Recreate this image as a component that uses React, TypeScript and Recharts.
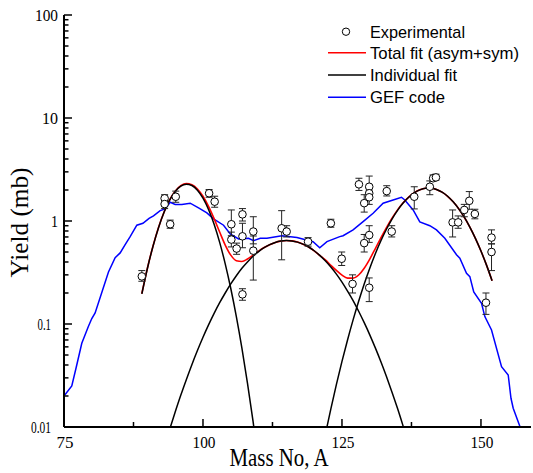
import React from 'react';
import { ComposedChart, Line, Scatter, XAxis, YAxis, ErrorBar } from 'recharts';

const W = 533;
const H = 473;
const SERIF = '"Liberation Serif", "Times New Roman", serif';
const SANS = '"Liberation Sans", Arial, sans-serif';

// ---------- Experimental yields ----------
const expMass = [89.0, 93.1, 93.1, 94.1, 95.1, 101.1, 102.1, 105.1, 105.1, 106.05, 107.1, 107.1, 107.1, 109.05, 109.05,
  114.15, 115.05, 118.9, 123.0, 124.95, 126.9, 128.05, 129.0, 129.0, 129.9, 129.9, 129.9, 129.9, 129.9, 133.05, 133.95,
  138.0, 140.8, 141.4, 141.9, 144.9, 145.9, 147.0, 147.9, 148.9, 150.9, 151.9, 151.9];
const expYield = [0.29, 1.66, 1.46, 0.93, 1.72, 1.86, 1.54, 0.93, 0.66, 0.54, 1.16, 0.71, 0.194, 0.79, 0.515,
  0.85, 0.79, 0.63, 0.95, 0.43, 0.245, 2.27, 1.49, 0.61, 2.15, 1.86, 1.7, 0.73, 0.225, 1.95, 0.79,
  1.72, 2.15, 2.6, 2.65, 0.97, 0.97, 1.28, 1.57, 1.17, 0.161, 0.69, 0.5];
const expErrLow = [0.03, 0.16, 0.14, 0.08, 0.2, 0.16, 0.18, 0.21, 0.1, 0.065, 0.16, 0.16, 0.024, 0.19, 0.248,
  0.43, 0.09, 0.06, 0.08, 0.06, 0.045, 0.29, 0.27, 0.11, 0.3, 0.2, 0.25, 0.11, 0.06, 0.2, 0.09,
  0.41, 0.35, 0.15, 0.15, 0.27, 0.12, 0.18, 0.27, 0.12, 0.037, 0.09, 0.17];
const expErrHigh = [0.04, 0.14, 0.14, 0.09, 0.23, 0.16, 0.2, 0.35, 0.12, 0.07, 0.16, 0.24, 0.026, 0.31, 0.2,
  0.41, 0.11, 0.06, 0.09, 0.07, 0.055, 0.33, 0.31, 0.13, 0.58, 0.2, 0.25, 0.17, 0.055, 0.25, 0.11,
  0.43, 0.3, 0.2, 0.2, 0.31, 0.15, 0.17, 0.36, 0.13, 0.039, 0.13, 0.1];

// ---------- Total fit (asym + sym) ----------
const totalMass = [89, 90, 91, 92, 93, 94, 95, 96, 97, 98, 99, 100, 101, 102, 103, 104, 105, 106, 107, 108, 109, 110,
  111, 112, 113, 114, 115, 116, 117, 118, 119, 120, 121, 122, 123, 124, 125, 126, 127, 128, 129, 130, 131, 132,
  133, 134, 135, 136, 137, 138, 139, 140, 141, 142, 143, 144, 145, 146, 147, 148, 149, 150, 151, 152];
const totalFit = [0.197, 0.348, 0.568, 0.865, 1.222, 1.602, 1.947, 2.199, 2.309, 2.253, 2.047, 1.739, 1.389, 1.056,
  0.781, 0.584, 0.466, 0.412, 0.405, 0.427, 0.465, 0.51, 0.553, 0.589, 0.619, 0.638, 0.646, 0.641, 0.624, 0.596,
  0.559, 0.514, 0.464, 0.419, 0.372, 0.331, 0.298, 0.279, 0.279, 0.299, 0.348, 0.427, 0.54, 0.686, 0.863, 1.066,
  1.283, 1.502, 1.707, 1.88, 2.009, 2.08, 2.085, 2.025, 1.905, 1.738, 1.535, 1.313, 1.088, 0.873, 0.679, 0.511,
  0.373, 0.263];

// ---------- Individual fits ----------
const lightMass = [89, 90, 91, 92, 93, 94, 95, 96, 97, 98, 99, 100, 101, 102, 103, 104, 105, 106, 107, 108, 109, 110];
const lightFit = [0.196, 0.346, 0.566, 0.861, 1.216, 1.592, 1.933, 2.179, 2.28, 2.213, 1.992, 1.665, 1.291, 0.929,
  0.62, 0.384, 0.221, 0.118, 0.0582, 0.0267, 0.0114, 0.0045];
const symMass = [94, 95, 96, 97, 98, 99, 100, 101, 102, 103, 104, 105, 106, 107, 108, 109, 110, 111, 112, 113, 114,
  115, 116, 117, 118, 119, 120, 121, 122, 123, 124, 125, 126, 127, 128, 129, 130, 131, 132, 133, 134, 135, 136, 137];
const symFit = [0.00946, 0.01397, 0.0203, 0.0288, 0.0403, 0.0552, 0.0743, 0.098, 0.1268, 0.161, 0.2, 0.245, 0.294,
  0.347, 0.4, 0.454, 0.505, 0.551, 0.589, 0.619, 0.638, 0.646, 0.641, 0.624, 0.596, 0.559, 0.514, 0.464, 0.411,
  0.357, 0.305, 0.255, 0.209, 0.169, 0.133, 0.103, 0.0785, 0.0586, 0.043, 0.0309, 0.0218, 0.0151, 0.0102, 0.0068];
const heavyMass = [122, 123, 124, 125, 126, 127, 128, 129, 130, 131, 132, 133, 134, 135, 136, 137, 138, 139, 140, 141,
  142, 143, 144, 145, 146, 147, 148, 149, 150, 151, 152];
const heavyFit = [0.00843, 0.015, 0.0259, 0.0433, 0.07, 0.1096, 0.1663, 0.245, 0.348, 0.481, 0.643, 0.832, 1.044,
  1.268, 1.492, 1.7, 1.876, 2.006, 2.078, 2.084, 2.024, 1.905, 1.738, 1.535, 1.313, 1.088, 0.873, 0.679, 0.511,
  0.373, 0.263];

// ---------- GEF code ----------
const gefMass = [75.0, 76.4, 77.2, 78.2, 79.4, 80.0, 80.6, 81.9, 83.0, 84.2, 85.1, 86.0, 86.9, 88.1, 89.2, 90.3, 91.1,
  92.3, 93.2, 94.1, 95.0, 96.2, 97.7, 99.2, 100.7, 101.9, 103.7, 104.9, 106.4, 108.2, 109.1, 110.3, 111.5, 114.2,
  116.9, 119.8, 121.0, 122.3, 124.6, 125.2, 127.0, 128.8, 130.6, 132.4, 134.2, 135.7, 136.3, 137.8, 139.0, 140.8,
  142.0, 143.5, 145.6, 146.2, 147.4, 148.0, 148.7, 150.1, 150.7, 151.9, 153.7, 154.9, 155.4, 155.8, 157.1];
const gefYield = [0.02, 0.025, 0.038, 0.065, 0.095, 0.113, 0.128, 0.21, 0.32, 0.44, 0.49, 0.59, 0.705, 0.91, 0.95,
  1.06, 1.12, 1.26, 1.31, 1.52, 1.45, 1.45, 1.49, 1.34, 1.2, 1.05, 0.91, 0.75, 0.67, 0.68, 0.644, 0.68, 0.68, 0.72,
  0.69, 0.63, 0.55, 0.63, 0.705, 0.72, 0.82, 0.985, 1.19, 1.49, 1.6, 1.7, 1.6, 1.28, 0.98, 0.9, 0.82, 0.68, 0.47,
  0.435, 0.31, 0.288, 0.205, 0.159, 0.118, 0.0875, 0.0385, 0.032, 0.019, 0.0152, 0.0098];

// ---------- Axes ----------
const massTicks = [75, 87.5, 100, 112.5, 125, 137.5, 150];
const massMajor = [75, 100, 125, 150];
const yieldTicks = [0.01, 0.02, 0.03, 0.04, 0.05, 0.06, 0.07, 0.08, 0.09, 0.1, 0.2, 0.3, 0.4, 0.5, 0.6, 0.7, 0.8, 0.9,
  1, 2, 3, 4, 5, 6, 7, 8, 9, 10, 20, 30, 40, 50, 60, 70, 80, 90, 100];
const yieldMajor = [0.01, 0.1, 1, 10, 100];
const yieldLabels = ['0.01', '0.1', '1', '10', '100'];

const legendLabels = ['Experimental', 'Total fit (asym+sym)', 'Individual fit', 'GEF code'];

// label widths (style)
const xLabelLen: Record<string, number> = { '75': 17, '100': 23, '125': 23, '150': 23 };
const yLabelLen: Record<string, number> = { '0.01': 20, '0.1': 13.5, '1': 7, '10': 16, '100': 23 };
const legendLen = [95, 149, 87, 75];

const rows = (xs: number[], ys: number[]) => xs.map((a, i) => ({ a, y: ys[i] }));
const expData = expMass.map((a, i) => ({ a, y: expYield[i], err: [expErrLow[i], expErrHigh[i]] }));
const totalData = rows(totalMass, totalFit);
const lightData = rows(lightMass, lightFit);
const symData = rows(symMass, symFit);
const heavyData = rows(heavyMass, heavyFit);
const gefData = rows(gefMass, gefYield);

function MassTick(props: any) {
  const { x, y, payload, side } = props;
  const v = payload.value;
  const major = massMajor.includes(v);
  const len = major ? 8 : 5;
  const d = side === 'top' ? 1 : -1;
  const label = side === 'bottom' && major ? String(v) : null;
  return (
    <g>
      <line x1={x} x2={x} y1={y} y2={y + d * len} stroke="#000" strokeWidth={1.5} />
      {label && (
        <text x={x + 1} y={y + 21} textAnchor="middle" fontFamily={SERIF} fontSize={16} fill="#000"
          textLength={xLabelLen[label]} lengthAdjust="spacingAndGlyphs">{label}</text>
      )}
    </g>
  );
}

function YieldTick(props: any) {
  const { x, y, payload, side } = props;
  const v = payload.value;
  const mi = yieldMajor.findIndex((m) => Math.abs(m - v) < m * 1e-6);
  const major = mi >= 0;
  const len = major ? 8 : 4.5;
  const d = side === 'left' ? 1 : -1;
  const label = side === 'left' && major ? yieldLabels[mi] : null;
  return (
    <g>
      <line x1={x} x2={x + d * len} y1={y} y2={y} stroke="#000" strokeWidth={1.5} />
      {label && (
        <text x={x - (label.includes('.') ? 13 : 6)} y={y + 5.5} textAnchor="end" fontFamily={SERIF} fontSize={16}
          fill="#000" textLength={yLabelLen[label]} lengthAdjust="spacingAndGlyphs">{label}</text>
      )}
    </g>
  );
}

const Dot = (p: any) => <circle cx={p.cx} cy={p.cy} r={3.8} fill="#fff" stroke="#000" strokeWidth={1} />;

export default function App() {
  return (
    <div style={{ position: 'absolute', left: 0, top: 0, width: W, height: H, background: '#fff' }}>
      <ComposedChart width={W} height={H} margin={{ top: 15, right: 2, bottom: 0, left: 0 }}>
        <XAxis dataKey="a" type="number" domain={[75, 159]} ticks={massTicks} interval={0} allowDataOverflow
          height={46} tickSize={0} tickMargin={0} tickLine={false}
          axisLine={{ stroke: '#000', strokeWidth: 2 }} tick={(p: any) => <MassTick {...p} side="bottom" />} />
        <XAxis xAxisId="top" orientation="top" dataKey="a" type="number" domain={[75, 159]} ticks={massTicks}
          interval={0} allowDataOverflow height={0} tickSize={0} tickMargin={0} tickLine={false}
          axisLine={{ stroke: '#000', strokeWidth: 2 }} tick={(p: any) => <MassTick {...p} side="top" />} />
        <YAxis type="number" scale="log" domain={[0.01, 100]} ticks={yieldTicks} interval={0} allowDataOverflow
          width={64} tickSize={0} tickMargin={0} tickLine={false}
          axisLine={{ stroke: '#000', strokeWidth: 2 }} tick={(p: any) => <YieldTick {...p} side="left" />} />
        <YAxis yAxisId="right" orientation="right" type="number" scale="log" domain={[0.01, 100]} ticks={yieldTicks}
          interval={0} allowDataOverflow width={0} tickSize={0} tickMargin={0} tickLine={false}
          axisLine={{ stroke: '#000', strokeWidth: 2 }} tick={(p: any) => <YieldTick {...p} side="right" />} />

        <Line data={gefData} dataKey="y" type="linear" stroke="#0000ff" strokeWidth={1.5} dot={false}
          isAnimationActive={false} />
        <Line data={totalData} dataKey="y" type="monotone" stroke="#ff0000" strokeWidth={1.6} dot={false}
          isAnimationActive={false} />
        <Line data={lightData} dataKey="y" type="monotone" stroke="#000" strokeWidth={1.5} dot={false}
          isAnimationActive={false} />
        <Line data={symData} dataKey="y" type="monotone" stroke="#000" strokeWidth={1.5} dot={false}
          isAnimationActive={false} />
        <Line data={heavyData} dataKey="y" type="monotone" stroke="#000" strokeWidth={1.5} dot={false}
          isAnimationActive={false} />
        <Scatter data={expData} dataKey="y" shape={Dot} isAnimationActive={false}>
          <ErrorBar dataKey="err" direction="y" width={3.5} stroke="#222" strokeWidth={1} isAnimationActive={false} />
        </Scatter>
      </ComposedChart>

      <svg width={W} height={H} style={{ position: 'absolute', left: 0, top: 0, pointerEvents: 'none' }}>
        <circle cx={346} cy={31.7} r={3.7} fill="#fff" stroke="#000" strokeWidth={1} />
        <line x1={328} x2={366} y1={52.7} y2={52.7} stroke="#ff0000" strokeWidth={1.6} />
        <line x1={328} x2={366} y1={75} y2={75} stroke="#000" strokeWidth={1.6} />
        <line x1={328} x2={366} y1={97.3} y2={97.3} stroke="#0000ff" strokeWidth={1.6} />
        {legendLabels.map((t, i) => (
          <text key={t} x={370} y={37.5 + i * 21.7} fontFamily={SANS} fontSize={17} fill="#000"
            textLength={legendLen[i]} lengthAdjust="spacingAndGlyphs">{t}</text>
        ))}
        <text x={279} y={466} textAnchor="middle" fontFamily={SERIF} fontSize={25} fill="#000"
          textLength={99} lengthAdjust="spacingAndGlyphs">Mass No, A</text>
        <text x={28} y={222.5} transform="rotate(-90 28 222.5)" textAnchor="middle" fontFamily={SERIF} fontSize={26}
          fill="#000" textLength={110} lengthAdjust="spacingAndGlyphs">Yield (mb)</text>
      </svg>
    </div>
  );
}
